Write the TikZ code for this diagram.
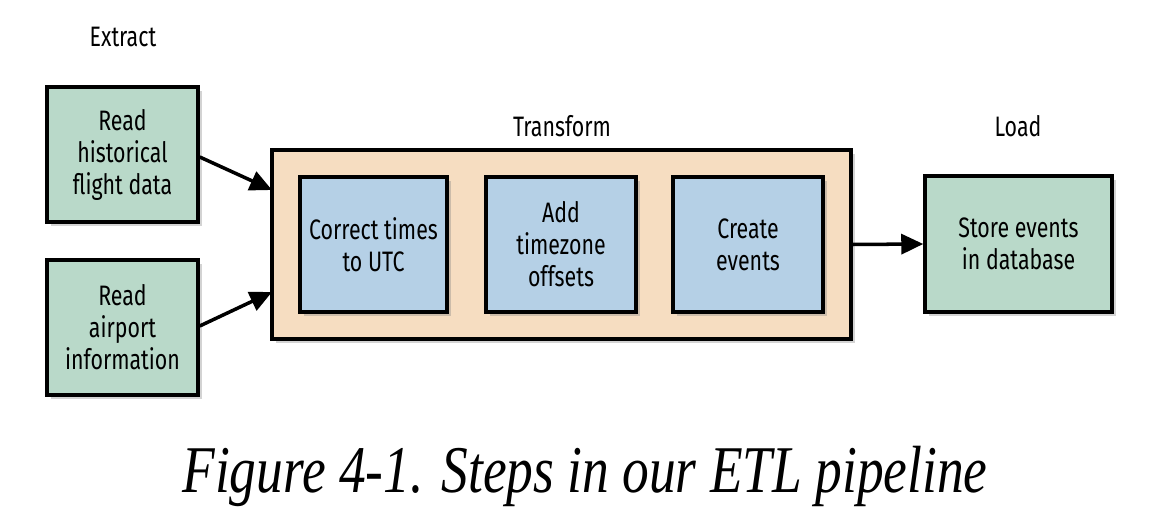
\documentclass[tikz,border=0pt]{standalone}
\usepackage{fontspec}
\setmainfont{Fira Sans}[FakeStretch=0.76]
\newfontfamily\capfont{Liberation Serif}[FakeStretch=0.8]
\usepackage{tikz}
\usetikzlibrary{arrows.meta, shadows}

\definecolor{extractgreen}{HTML}{B9D9C9}
\definecolor{stepblue}{HTML}{B5D0E6}
\definecolor{transpeach}{HTML}{F6DDC1}

\tikzset{
  stagebox/.style={draw=black, line width=2pt, fill=extractgreen, align=center,
    inner sep=0pt, drop shadow={opacity=0.35, shadow xshift=0.8mm, shadow yshift=-0.8mm},
    font=\fontsize{16pt}{18.2pt}\selectfont},
  stepbox/.style={stagebox, fill=stepblue},
  stagelabel/.style={font=\fontsize{16pt}{18.2pt}\selectfont},
  flow/.style={-{Triangle[length=4.4mm, width=4mm]}, line width=2pt}
}

\begin{document}
\begin{tikzpicture}[x=0.02cm, y=-0.02cm]
  \useasboundingbox (0,0) rectangle (1154,530);
  % stage labels
  \node[stagelabel] (extract) at (123,37) {Extract};
  \node[stagelabel] (transform) at (562,126) {Transform};
  \node[stagelabel] (load) at (1018,126) {Load};
  % extract step
  \node[stagebox, minimum width=3.02cm, minimum height=2.7cm] (flights) at (122.5,154.5) {Read\\historical\\flight data};
  \node[stagebox, minimum width=3.02cm, minimum height=2.7cm] (airports) at (122.5,327.5) {Read\\airport\\information};
  % transform step
  \node[stagebox, fill=transpeach, minimum width=11.58cm, minimum height=3.78cm] (outer) at (561.5,244.5) {};
  \node[stepbox, minimum width=2.94cm, minimum height=2.7cm] (utc) at (373.5,244.5) {Correct times\\to UTC};
  \node[stepbox, minimum width=3.0cm, minimum height=2.7cm] (tz) at (561,244.5) {Add\\timezone\\offsets};
  \node[stepbox, minimum width=3.0cm, minimum height=2.7cm] (events) at (748,244.5) {Create\\events};
  % load step
  \node[stagebox, minimum width=3.74cm, minimum height=2.72cm] (store) at (1018.5,244) {Store events\\in database};
  % arrows
  \coordinate (in1) at (272,190);
  \coordinate (in2) at (272,292);
  \draw[flow] (flights.east |- 0,157) -- (in1);
  \draw[flow] (airports.east |- 0,326) -- (in2);
  \draw[flow] (outer.east) -- (store.west);
  % caption
  \node[font=\capfont\itshape\fontsize{38pt}{42pt}\selectfont] (caption) at (585,476) {Figure 4-1. Steps in our ETL pipeline};
\end{tikzpicture}
\end{document}
